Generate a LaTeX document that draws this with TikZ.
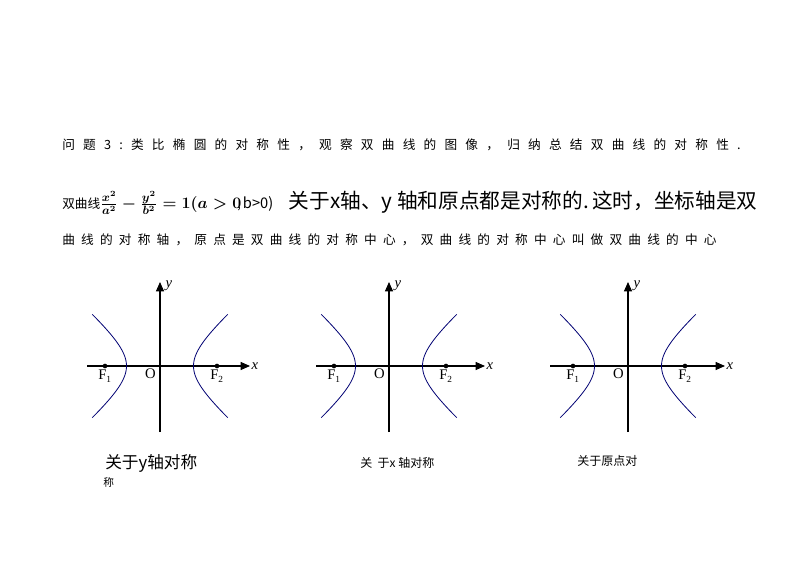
\documentclass[tikz,border=0pt]{standalone}
\usepackage{amsmath}
\usepackage{fontspec}
\setmainfont{Liberation Serif}
\newfontfamily\cjk{Noto Sans CJK SC}
\newfontfamily\cjkA[LetterSpace=65]{Noto Sans CJK SC}
\newfontfamily\cjkB[LetterSpace=49]{Noto Sans CJK SC}
\usetikzlibrary{arrows.meta}
\tikzset{
  txt/.style={anchor=west,inner sep=0pt,font=\cjk\fontsize{9.5}{11}\selectfont},
  axis/.style={line width=0.8pt,-{Triangle[length=7pt,width=6pt]}},
  hyp/.style={color=blue!45!black,line width=0.6pt},
  lab/.style={inner sep=1pt,font=\fontsize{11}{13}\selectfont},
  foc/.style={circle,fill=black,inner sep=0pt,minimum size=3.5pt}
}
\newcommand{\hypgraph}[5]{%
  \coordinate (#1o) at (#2,366);
  \coordinate (#1xl) at (#3,366);
  \coordinate (#1xr) at (#4,366);
  \coordinate (#1yb) at (#2,432);
  \coordinate (#1yt) at (#2,282);
  \draw[axis] (#1xl) -- (#1xr);
  \draw[axis] (#1yb) -- (#1yt);
  \node[lab,anchor=west] at (#1xr) {\itshape x};
  \node[lab,anchor=west] at ([xshift=3pt,yshift=-3pt]#1yt) {\itshape y};
  \node[lab,anchor=north east] at ([xshift=-2pt,yshift=-1pt]#1o) {O};
  \draw[hyp] plot[domain=-1.33:1.33,samples=40,variable=\t] ({#2+#5*cosh(\t)},{366+29.4*sinh(\t)});
  \draw[hyp] plot[domain=-1.33:1.33,samples=40,variable=\t] ({#2-#5*cosh(\t)},{366+29.4*sinh(\t)});
  \node[foc] (#1f1) at ({#2-55},366) {};
  \node[foc] (#1f2) at ({#2+57},366) {};
  \node[lab,anchor=north] at ([yshift=-2pt]#1f1) {F\textsubscript{\scriptsize 1}};
  \node[lab,anchor=north] at ([yshift=-2pt]#1f2) {F\textsubscript{\scriptsize 2}};
}
\begin{document}
\begin{tikzpicture}[x=0.75pt,y=-0.75pt]
\useasboundingbox[fill=white] (0,0) rectangle (794,561);
\node[txt,font=\cjkA\fontsize{9.5}{11}\selectfont] (l1) at (62,145) {问题3:类比椭圆的对称性，观察双曲线的图像，归纳总结双曲线的对称性.};
\node[txt] (l2) at (62,203) {双曲线{\boldmath\fontsize{13}{15}\selectfont$\frac{x^2}{a^2}-\frac{y^2}{b^2}=1(a>0$}\hspace{-3pt},\,{\fontsize{11}{13}\selectfont b>0)}\quad\ {\fontsize{15.5}{17}\selectfont 关于x轴、y 轴和原点都是对称的.\,这时，坐标轴是双}};
\node[txt,font=\cjkB\fontsize{9.5}{11}\selectfont] (l3) at (62,240) {曲线的对称轴，原点是双曲线的对称中心，双曲线的对称中心叫做双曲线的中心};
\hypgraph{a}{160}{87}{250}{33.5}
\hypgraph{b}{389}{316}{485}{33.5}
\hypgraph{c}{628}{550}{725}{33.5}
\node[txt,font=\cjk\fontsize{12.5}{14}\selectfont] (c1) at (105,463) {关于y轴对称};
\node[txt,font=\cjk\fontsize{8}{10}\selectfont] (c1b) at (103,482) {称};
\node[txt,font=\cjk\fontsize{9}{11}\selectfont] (c2) at (360,463) {关\ \ 于x 轴对称};
\node[txt,font=\cjk\fontsize{9}{11}\selectfont] (c3) at (577,461) {关于原点对};
\end{tikzpicture}
\end{document}
